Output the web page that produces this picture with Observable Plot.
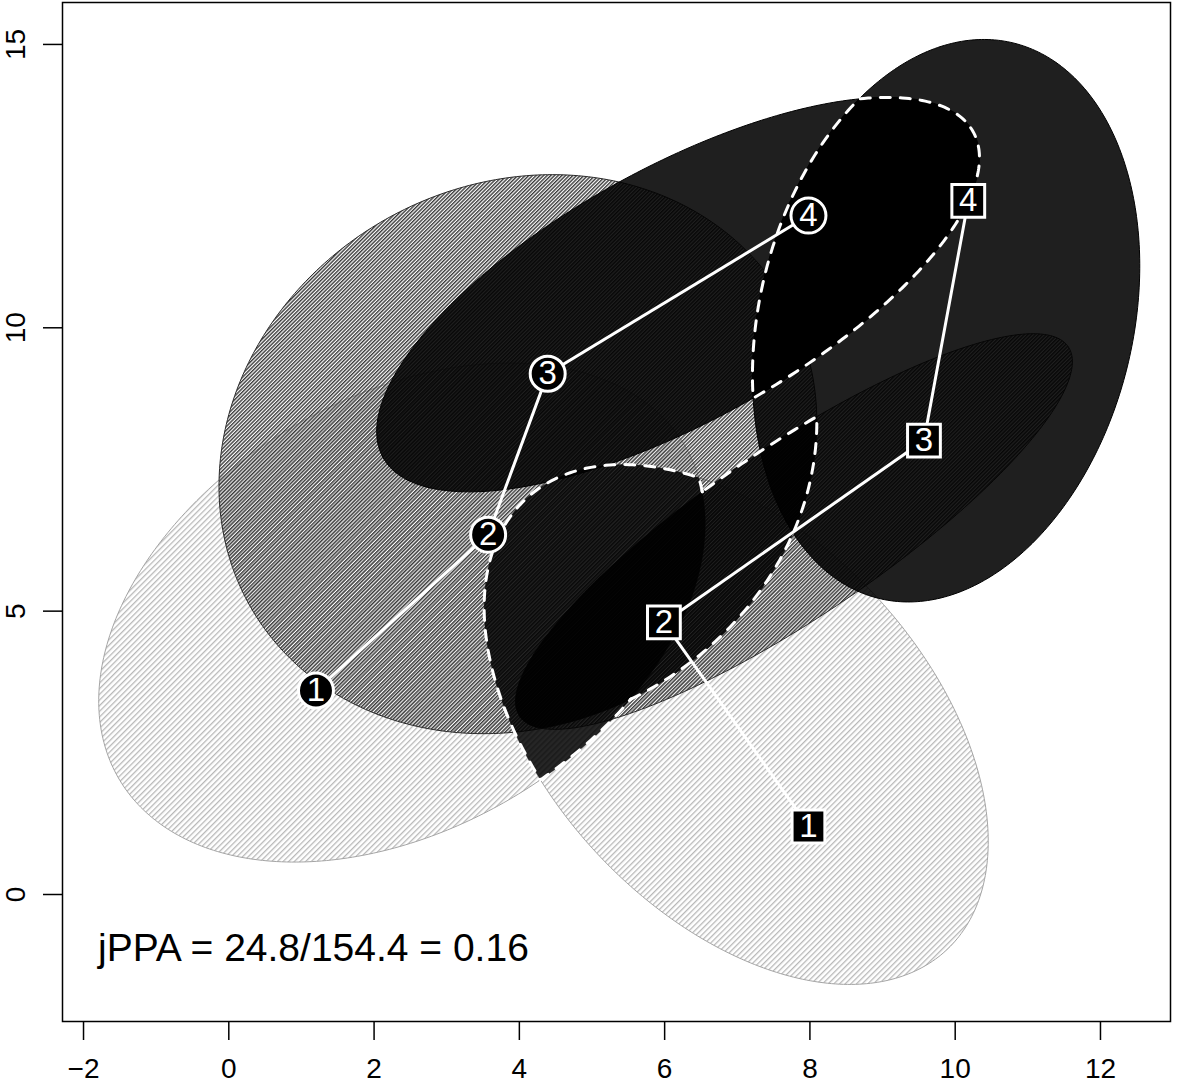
<!DOCTYPE html>
<html><head><meta charset="utf-8">
<script src="https://cdn.jsdelivr.net/npm/d3@7"></script>
<script src="https://cdn.jsdelivr.net/npm/@observablehq/plot@0.6"></script>
<style>body{margin:0;background:#fff} svg{display:block}</style>
</head><body><div id="chart"></div>
<script>
// ---- data ----
const pointLabels = ["1", "2", "3", "4"];
const circleX = [1.2, 3.57, 4.39, 7.98];
const circleY = [3.6, 6.35, 9.19, 11.98];
const squareX = [7.98, 5.99, 9.57, 10.18];
const squareY = [1.2, 4.8, 8.01, 12.24];
const ppaSemiMajor = [5, 5, 5];           // PPA ellipse semi-major axis per step
const xTicks = [-2, 0, 2, 4, 6, 8, 10, 12];
const yTicks = [0, 5, 10, 15];
const jppaShared = 24.8, jppaTotal = 154.4, jppaRatio = 0.16;

// ---- geometry helpers ----
const trackA = circleX.map((x, i) => ({x, y: circleY[i], label: pointLabels[i]}));
const trackB = squareX.map((x, i) => ({x, y: squareY[i], label: pointLabels[i]}));

function ppaEllipse(p, q, a, n = 360) {
  const mx = (p.x + q.x) / 2, my = (p.y + q.y) / 2;
  const dx = q.x - p.x, dy = q.y - p.y, d = Math.hypot(dx, dy);
  const c = dx / d, s = dy / d, b = Math.sqrt(Math.max(a * a - d * d, 0.01));
  const pts = [];
  for (let i = 0; i < n; i++) {
    const t = 2 * Math.PI * i / n, u = a * Math.cos(t), v = b * Math.sin(t);
    pts.push([mx + u * c - v * s, my + u * s + v * c]);
  }
  return pts;
}
function clipConvex(subject, clipPoly) {
  let out = subject;
  for (let i = 0; i < clipPoly.length; i++) {
    const a = clipPoly[i], b = clipPoly[(i + 1) % clipPoly.length];
    const side = p => (b[0] - a[0]) * (p[1] - a[1]) - (b[1] - a[1]) * (p[0] - a[0]);
    const inp = out; out = [];
    for (let j = 0; j < inp.length; j++) {
      const P = inp[j], Q = inp[(j + 1) % inp.length], sp = side(P), sq = side(Q);
      if (sp >= 0) out.push(P);
      if ((sp >= 0) !== (sq >= 0)) { const t = sp / (sp - sq); out.push([P[0] + t * (Q[0] - P[0]), P[1] + t * (Q[1] - P[1])]); }
    }
  }
  return out;
}
function insideConvex(p, poly) {
  for (let i = 0; i < poly.length; i++) {
    const a = poly[i], b = poly[(i + 1) % poly.length];
    if ((b[0] - a[0]) * (p[1] - a[1]) - (b[1] - a[1]) * (p[0] - a[0]) < -1e-12) return false;
  }
  return true;
}
function crossing(outP, inP, poly) {
  let o = outP, n = inP;
  for (let k = 0; k < 40; k++) {
    const m = [(o[0] + n[0]) / 2, (o[1] + n[1]) / 2];
    if (insideConvex(m, poly)) n = m; else o = m;
  }
  return o;
}
function outsideRuns(P, Q) {
  const n = P.length, ins = P.map(p => insideConvex(p, Q));
  if (ins.every(v => !v)) return [P.concat([P[0]])];
  let start = -1;
  for (let i = 0; i < n; i++) if (!ins[i] && ins[(i - 1 + n) % n]) { start = i; break; }
  if (start < 0) return [];
  const runs = [];
  let cur = [crossing(P[start], P[(start - 1 + n) % n], Q), P[start]];
  for (let k = 1; k <= n; k++) {
    const i = (start + k) % n, prev = (start + k - 1) % n;
    if (!ins[prev] && !ins[i]) cur.push(P[i]);
    else if (!ins[prev] && ins[i]) { cur.push(crossing(P[prev], P[i], Q)); runs.push(cur); cur = null; }
    else if (ins[prev] && !ins[i]) cur = [crossing(P[i], P[prev], Q), P[i]];
  }
  if (cur) runs.push(cur);
  return runs;
}

const ellA = [0, 1, 2].map(i => ppaEllipse(trackA[i], trackA[i + 1], ppaSemiMajor[i]));
const ellB = [0, 1, 2].map(i => ppaEllipse(trackB[i], trackB[i + 1], ppaSemiMajor[i]));
const inter = [0, 1, 2].map(i => clipConvex(ellA[i], ellB[i]));

const runs = [...outsideRuns(inter[0], inter[1]), ...outsideRuns(inter[1], inter[0])];
const dashData = runs.flatMap((r, k) => r.map(p => ({x: p[0], y: p[1], id: k})));

const styles = [
  {fill: "url(#hatchLight)", stroke: "#a5a5a5"},
  {fill: "url(#hatchDark)", stroke: "#2a2a2a"},
  {fill: "rgba(0,0,0,0.88)", stroke: "#000"}
];
const ellipseMarks = [];
for (let i = 0; i < 3; i++) {
  for (const e of [ellA[i], ellB[i]]) {
    ellipseMarks.push(Plot.line(e, {x: d => d[0], y: d => d[1], curve: "linear-closed",
      fill: styles[i].fill, stroke: styles[i].stroke, strokeWidth: 1}));
  }
}
const px = d => d[0], py = d => d[1];
const font = "Liberation Sans, Arial, Helvetica, sans-serif";

const svg = Plot.plot({
  width: 1182, height: 1083,
  marginLeft: 62, marginRight: 12, marginTop: 2, marginBottom: 62,
  x: {domain: [-2.2894, 12.964], axis: null},
  y: {domain: [-2.241, 15.740], axis: null},
  style: {fontFamily: font, background: "white"},
  marks: [
    ...ellipseMarks,
    ...inter.map(p => Plot.line(p, {x: px, y: py, curve: "linear-closed", fill: "rgba(0,0,0,0.85)", stroke: "none"})),
    Plot.line(dashData, {x: "x", y: "y", z: "id", stroke: "white", strokeWidth: 3, strokeDasharray: "10,10", strokeLinecap: "round"}),
    Plot.line(inter[2], {x: px, y: py, curve: "linear-closed", stroke: "white", strokeWidth: 3, strokeDasharray: "10,10", strokeLinecap: "round"}),
    Plot.line(trackA, {x: "x", y: "y", stroke: "white", strokeWidth: 3}),
    Plot.line(trackB, {x: "x", y: "y", stroke: "white", strokeWidth: 3}),
    Plot.dot(trackA, {x: "x", y: "y", r: 17.5, fill: "black", stroke: "white", strokeWidth: 3}),
    Plot.dot(trackB, {x: "x", y: "y", r: 18.5, symbol: "square", fill: "black", stroke: "white", strokeWidth: 3}),
    Plot.text(trackA, {x: "x", y: "y", text: "label", fill: "white", fontSize: 33, lineAnchor: "middle"}),
    Plot.text(trackB, {x: "x", y: "y", text: "label", fill: "white", fontSize: 33, lineAnchor: "middle"}),
    Plot.text([0], {x: () => -1.8, y: () => -0.95, text: () => `jPPA = ${jppaShared}/${jppaTotal} = ${jppaRatio}`,
      textAnchor: "start", lineAnchor: "middle", fontSize: 39, fill: "black"}),
    Plot.frame({stroke: "black", strokeWidth: 1.5}),
    Plot.axisX({ticks: xTicks, anchor: "bottom", tickSize: 19, tickFormat: () => "", strokeWidth: 1.5, label: null}),
    Plot.axisY({ticks: yTicks, anchor: "left", tickSize: 19, tickFormat: () => "", strokeWidth: 1.5, label: null}),
    Plot.text(xTicks, {x: d => d, frameAnchor: "bottom", dy: 37, lineAnchor: "top", fontSize: 28, fill: "black",
      text: d => d < 0 ? "\u2212" + (-d) : String(d)}),
    Plot.text(yTicks, {y: d => d, frameAnchor: "left", dx: -57, rotate: -90, lineAnchor: "top", textAnchor: "middle",
      fontSize: 28, fill: "black", text: d => String(d)})
  ]
});

const defs = d3.select(svg).insert("defs", ":first-child");
function hatch(id, spacing, width, color) {
  const p = defs.append("pattern").attr("id", id).attr("patternUnits", "userSpaceOnUse")
    .attr("width", spacing).attr("height", 10).attr("patternTransform", "rotate(45)");
  p.append("rect").attr("x", 0).attr("y", 0).attr("width", width).attr("height", 10).attr("fill", color);
}
hatch("hatchLight", 4, 1.3, "#b8b8b8");
hatch("hatchDark", 2.6, 1.4, "#3a3a3a");
document.getElementById("chart").appendChild(svg);
</script>
</body></html>
